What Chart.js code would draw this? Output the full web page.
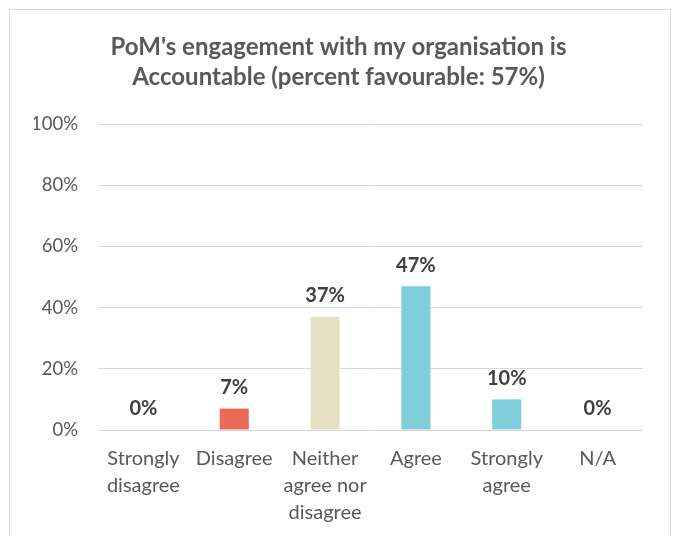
<!DOCTYPE html>
<html>
<head>
<meta charset="utf-8">
<script src="https://cdn.jsdelivr.net/npm/chart.js@4"></script>
<style>
  body { margin: 0; background: #fff; overflow: hidden; }
  #frame {
    position: absolute; left: 9px; top: 9px;
    width: 662px; height: 540px;
    border: 1px solid #d9d9d9; box-sizing: border-box;
  }
  #frame canvas { display: block; }
</style>
</head>
<body>
<div id="frame"><canvas id="chart" width="660" height="531"></canvas></div>
<script>
// survey response shares (percent)
var categories = [
    ["Strongly", "disagree"],
    "Disagree",
    ["Neither", "agree nor", "disagree"],
    "Agree",
    ["Strongly", "agree"],
    "N/A"
];
var percents = [0, 7, 37, 47, 10, 0];
var barColors = ["#EC6A5A", "#EC6A5A", "#E6E1C5", "#7ECFD9", "#7ECFD9", "#7ECFD9"];
var yTicks = [0, 20, 40, 60, 80, 100];

var fontFamily = "Lato, 'Noto Sans', sans-serif";

// value labels above each bar
var barLabels = {
    id: "barLabels",
    afterDatasetsDraw: function (chart) {
        var ctx = chart.ctx;
        var meta = chart.getDatasetMeta(0);
        ctx.save();
        ctx.font = "bold 20px " + fontFamily;
        ctx.fillStyle = "#404040";
        ctx.textAlign = "center";
        ctx.textBaseline = "bottom";
        meta.data.forEach(function (bar, i) {
            ctx.fillText(percents[i] + "%", bar.x, bar.y - 11);
        });
        ctx.restore();
    }
};

var canvasElement = document.getElementById("chart");
var config = {
    type: "bar",
    data: {
        labels: categories,
        datasets: [{
            data: percents,
            backgroundColor: barColors,
            barPercentage: 0.32,
            categoryPercentage: 1
        }]
    },
    options: {
        responsive: false,
        animation: false,
        layout: {
            padding: { left: 24, right: 27, top: 0, bottom: 8 }
        },
        plugins: {
            legend: { display: false },
            tooltip: { enabled: false },
            title: {
                display: true,
                text: ["PoM's engagement with my organisation is",
                       "Accountable (percent favourable: 57%)"],
                color: "#595959",
                padding: { top: 22, bottom: 32 },
                font: { size: 24, weight: "bold", family: fontFamily, lineHeight: 1.25 }
            }
        },
        scales: {
            x: {
                grid: { display: false },
                border: { display: false },
                ticks: {
                    color: "#595959",
                    padding: 7,
                    maxRotation: 0,
                    autoSkip: false,
                    font: { size: 20, family: fontFamily, lineHeight: 1.35 }
                }
            },
            y: {
                min: 0,
                max: 100,
                afterBuildTicks: function (axis) {
                    axis.ticks = yTicks.map(function (v) { return { value: v }; });
                },
                afterFit: function (axis) {
                    axis.width = 64;
                },
                grid: { color: "#d9d9d9", lineWidth: 1, drawTicks: false },
                border: { display: false },
                ticks: {
                    color: "#595959",
                    padding: 20,
                    font: { size: 18.5, family: fontFamily },
                    callback: function (v) { return v + "%"; }
                }
            }
        }
    },
    plugins: [barLabels]
};

var chart = new Chart(canvasElement, config);
</script>
</body>
</html>
